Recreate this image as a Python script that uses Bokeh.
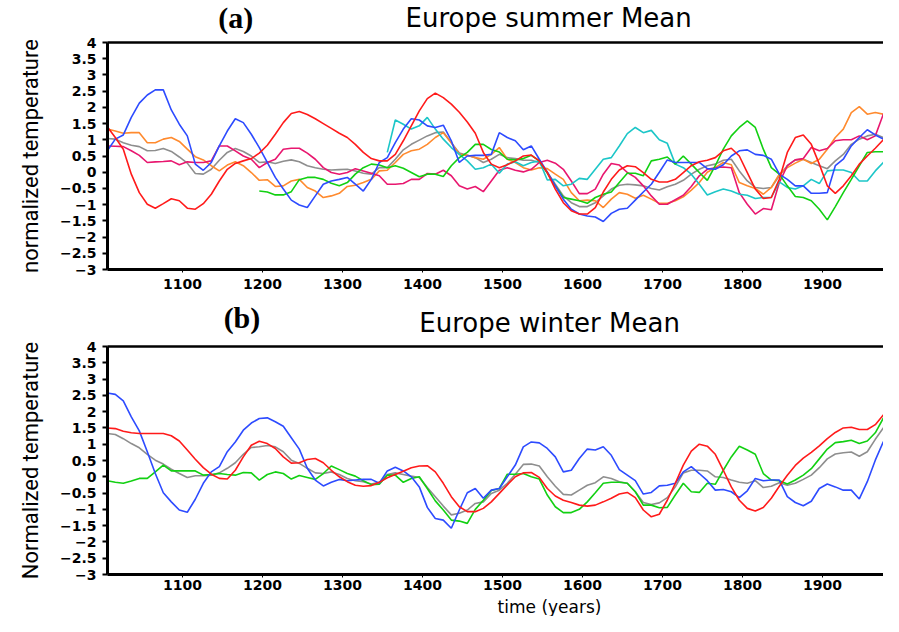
from bokeh.plotting import figure
from bokeh.models import Label, LinearAxis, FixedTicker, Range1d
from bokeh.layouts import column
from bokeh.embed import file_html
from bokeh.resources import INLINE

# ---------------- data ----------------
years = list(range(1006, 1987, 10))  # 99 samples, 10-year step

N = None
# Panel (a) Europe summer
sum_red = [1.40, 1.07, 0.71, -0.06, -0.63, -0.99, -1.11, -0.97, -0.82, -0.88,
           -1.11, -1.14, -0.97, -0.68, -0.27, 0.09, 0.27, 0.35, 0.42, 0.59,
           0.83, 1.17, 1.53, 1.81, 1.87, 1.78, 1.65, 1.50, 1.35, 1.20,
           1.07, 0.86, 0.61, 0.42, 0.35, 0.35, 0.55, 0.97, 1.43, 1.89,
           2.27, 2.44, 2.30, 2.10, 1.85, 1.55, 1.20, 0.61, 0.25, 0.14,
           0.23, 0.35, 0.50, 0.53, 0.35, -0.01, -0.52, -0.94, -1.19, -1.29,
           -1.29, -1.09, -0.61, -0.22, 0.07, 0.20, 0.17, -0.01, -0.22, -0.30,
           -0.30, -0.22, -0.01, 0.20, 0.32, 0.37, 0.45, 0.66, 0.74, 0.50,
           -0.01, -0.52, -0.81, -0.78, -0.22, 0.61, 1.07, 1.15, 0.86, 0.25,
           -0.42, -0.65, -0.42, -0.11, 0.25, 0.50, 0.74, 1.00, 0.91]
sum_blue = [0.66, 1.02, 1.15, 1.69, 2.13, 2.38, 2.54, 2.54, 1.92, 1.48,
            1.12, 0.25, 0.06, 0.30, 0.81, 1.27, 1.65, 1.53, 1.17, 0.76,
            0.30, -0.16, -0.52, -0.86, -1.01, -1.09, -0.73, -0.37, -0.27, -0.22,
            -0.16, -0.37, -0.58, -0.22, 0.30, 0.45, 0.91, 1.33, 1.65, 1.61,
            1.43, 1.38, 1.45, 0.97, 0.30, 0.50, 0.52, 0.52, 0.55, 1.22,
            1.07, 0.97, 0.69, 0.81, 0.40, 0.00, -0.42, -0.83, -1.14, -1.29,
            -1.35, -1.38, -1.52, -1.27, -1.14, -1.11, -0.86, -0.61, -0.37, 0.00,
            0.38, 0.30, 0.30, 0.30, 0.30, 0.11, 0.09, 0.23, 0.50, 0.66,
            0.69, 0.55, 0.52, 0.40, -0.06, -0.22, -0.42, -0.42, -0.65, -0.65,
            -0.63, 0.20, 0.40, 0.81, 1.07, 1.31, 1.15, 1.02, 0.94]
sum_orange = [1.33, 1.27, 1.20, 1.22, 1.22, 0.91, 0.91, 1.02, 1.07, 0.95,
              0.71, 0.48, 0.38, 0.20, 0.04, 0.22, 0.32, 0.20, -0.01, -0.25,
              -0.23, -0.44, -0.42, -0.27, -0.22, -0.47, -0.58, -0.78, -0.73, -0.65,
              -0.44, -0.40, -0.32, -0.22, 0.04, 0.06, 0.30, 0.55, 0.66, 0.71,
              0.86, 1.07, 1.22, 0.91, 0.55, 0.52, 0.45, 0.40, 0.55, 0.76,
              0.40, 0.30, 0.14, 0.07, 0.14, 0.11, -0.06, -0.22, -0.63, -0.88,
              -0.86, -0.88, -1.09, -0.83, -0.63, -0.68, -0.80, -0.71, -0.83, -0.96,
              -0.96, -0.88, -0.76, -0.55, -0.32, 0.00, 0.14, 0.30, 0.23, -0.32,
              -0.42, -0.50, -0.68, -0.47, -0.06, 0.14, 0.28, 0.40, 0.27, 0.40,
              0.71, 1.07, 1.33, 1.84, 2.02, 1.79, 1.84, 1.79, 1.58]
sum_gray = [1.04, 1.02, 0.91, 0.83, 0.79, 0.66, 0.67, 0.73, 0.64, 0.47,
            0.28, -0.04, -0.06, 0.09, 0.37, 0.61, 0.73, 0.64, 0.50, 0.30,
            0.32, 0.27, 0.34, 0.38, 0.32, 0.20, 0.14, 0.09, 0.07, 0.08,
            0.09, 0.04, -0.03, -0.06, 0.14, 0.14, 0.40, 0.69, 0.86, 0.99,
            1.12, 1.22, 1.24, 0.91, 0.59, 0.52, 0.45, 0.30, 0.40, 0.55,
            0.45, 0.42, 0.37, 0.37, 0.30, 0.00, -0.37, -0.73, -0.94, -1.06,
            -1.06, -0.94, -0.73, -0.52, -0.40, -0.37, -0.39, -0.42, -0.50, -0.55,
            -0.45, -0.37, -0.25, -0.06, 0.09, 0.20, 0.25, 0.37, 0.40, 0.04,
            -0.27, -0.47, -0.50, -0.47, -0.11, 0.20, 0.38, 0.40, 0.30, 0.20,
            0.11, 0.35, 0.55, 0.86, 1.02, 1.12, 1.17, 1.07, 0.97]
sum_magenta = [0.81, 0.80, 0.79, 0.66, 0.52, 0.30, 0.32, 0.33, 0.35, 0.23,
               0.32, 0.30, 0.30, 0.35, 0.81, 0.81, 0.66, 0.50, 0.40, 0.14,
               0.30, 0.40, 0.71, 0.74, 0.74, 0.59, 0.40, 0.14, -0.01, -0.06,
               -0.01, 0.11, 0.04, -0.03, -0.11, -0.37, -0.37, -0.35, -0.22, -0.22,
               -0.04, -0.06, 0.06, -0.11, -0.42, -0.52, -0.44, -0.60, -0.27, 0.06,
               0.14, 0.06, 0.01, 0.09, 0.30, 0.37, 0.28, 0.09, -0.27, -0.66,
               -0.66, -0.52, -0.06, 0.27, 0.22, -0.01, -0.16, -0.42, -0.73, -0.99,
               -0.99, -0.85, -0.71, -0.44, -0.11, 0.09, 0.14, 0.16, 0.14, -0.63,
               -0.99, -1.29, -1.12, -1.16, -0.32, 0.20, 0.38, 0.42, 0.76, 0.66,
               0.73, 0.97, 1.00, 1.00, 1.12, 1.00, 1.12, 1.79, 1.94]
sum_cyan = [N, N, N, N, N, N, N, N, N, N,
            N, N, N, N, N, N, N, N, N, N,
            N, N, N, N, N, N, N, N, N, N,
            N, N, N, N, N, 0.61, 1.61, 1.48, 1.33, 1.43,
            1.69, 1.33, 1.02, 0.76, 0.55, 0.35, 0.09, 0.14, 0.25, -0.03,
            0.25, 0.32, 0.20, 0.30, 0.35, -0.24, -0.22, -0.42, -0.37, -0.19,
            -0.22, 0.09, 0.40, 0.45, 0.81, 1.19, 1.38, 1.22, 1.29, 1.00,
            0.89, 0.25, 0.14, -0.06, -0.37, -0.70, -0.60, -0.52, -0.58, -0.68,
            -0.71, -0.81, -0.78, -0.78, -0.30, -0.47, -0.52, -0.42, -0.22, -0.35,
            0.04, 0.07, 0.07, -0.01, -0.27, -0.27, 0.04, 0.30, 0.50]
sum_green = [N, N, N, N, N, N, N, N, N, N,
             N, N, N, N, N, N, N, N, N, -0.58,
             -0.61, -0.70, -0.70, -0.60, -0.23, -0.16, -0.16, -0.22, -0.34, -0.42,
             -0.32, -0.06, 0.14, 0.25, 0.22, 0.14, 0.20, 0.12, -0.01, -0.14,
             -0.06, -0.06, -0.13, 0.20, 0.45, 0.61, 0.86, 0.86, 0.70, 0.62,
             0.40, 0.38, 0.42, 0.52, 0.35, -0.03, -0.42, -0.78, -0.83, -0.88,
             -0.96, -0.78, -0.68, -0.61, -0.32, -0.03, -0.03, -0.11, 0.35, 0.40,
             0.47, 0.25, 0.50, 0.25, -0.01, -0.25, 0.20, 0.71, 1.12, 1.38,
             1.58, 1.38, 0.71, 0.14, -0.06, -0.42, -0.75, -0.78, -0.88, -1.14,
             -1.47, -1.06, -0.63, -0.22, 0.20, 0.61, 0.63, 0.63, 0.55]

# Panel (b) Europe winter
win_blue = [2.57, 2.53, 2.33, 1.84, 1.41, 0.77, 0.10, -0.49, -0.77, -1.02,
            -1.09, -0.69, -0.20, 0.15, 0.31, 0.77, 1.07, 1.43, 1.65, 1.79,
            1.81, 1.69, 1.55, 1.20, 0.85, 0.26, -0.10, -0.28, -0.17, -0.08,
            -0.12, -0.10, -0.08, -0.08, -0.20, 0.18, 0.29, 0.18, 0.00, -0.31,
            -0.94, -1.28, -1.33, -1.58, -1.02, -0.49, -0.36, -0.66, -0.41, -0.36,
            0.00, 0.36, 0.92, 1.07, 1.04, 0.87, 0.61, 0.15, 0.20, 0.56,
            0.85, 0.82, 0.92, 0.66, 0.22, 0.05, -0.12, -0.53, -0.48, -0.28,
            -0.26, -0.20, 0.15, 0.31, 0.10, -0.12, -0.41, -0.39, -0.46, -0.64,
            -0.43, -0.05, -0.12, -0.10, -0.10, -0.61, -0.79, -0.89, -0.75, -0.36,
            -0.22, -0.31, -0.41, -0.41, -0.68, -0.15, 0.51, 1.07, 1.35]
win_red = [1.50, 1.48, 1.40, 1.35, 1.33, 1.33, 1.33, 1.33, 1.26, 1.10,
           0.82, 0.54, 0.28, 0.08, -0.05, -0.07, 0.20, 0.61, 0.97, 1.09,
           1.02, 0.87, 0.61, 0.42, 0.43, 0.53, 0.56, 0.43, 0.20, 0.00,
           -0.15, -0.26, -0.29, -0.27, -0.17, -0.03, 0.07, 0.17, 0.28, 0.33,
           0.34, 0.15, -0.20, -0.61, -0.92, -1.07, -1.07, -0.97, -0.77, -0.51,
           -0.25, 0.00, 0.12, 0.13, -0.02, -0.36, -0.59, -0.72, -0.79, -0.87,
           -0.90, -0.87, -0.77, -0.66, -0.53, -0.48, -0.64, -1.02, -1.23, -1.15,
           -0.72, -0.20, 0.36, 0.79, 1.00, 0.94, 0.69, 0.20, -0.31, -0.72,
           -0.97, -1.05, -0.94, -0.66, -0.29, 0.05, 0.35, 0.57, 0.75, 0.95,
           1.17, 1.36, 1.50, 1.52, 1.45, 1.45, 1.60, 1.90, 2.04]
win_green = [-0.12, -0.17, -0.20, -0.13, -0.05, -0.05, 0.15, 0.36, 0.18, 0.18,
             0.18, 0.18, 0.05, 0.07, 0.10, 0.07, 0.05, 0.13, 0.12, -0.10,
             0.07, 0.15, 0.10, -0.07, 0.04, -0.02, -0.08, 0.10, 0.33, 0.22,
             0.10, 0.02, -0.12, -0.24, -0.23, 0.05, 0.05, -0.17, -0.05, 0.00,
             -0.36, -0.74, -1.02, -1.33, -1.36, -1.43, -1.00, -0.72, -0.42, -0.36,
             0.08, 0.08, 0.10, 0.00, -0.07, -0.56, -0.92, -1.10, -1.10, -1.00,
             -0.77, -0.49, -0.20, -0.17, -0.17, -0.20, -0.46, -0.87, -0.87, -0.95,
             -0.94, -0.56, -0.20, -0.46, -0.48, -0.20, -0.23, 0.20, 0.61, 0.94,
             0.82, 0.69, 0.10, -0.10, -0.12, -0.22, -0.10, 0.05, 0.25, 0.55,
             0.85, 1.05, 1.08, 1.12, 1.02, 1.10, 1.35, 1.80, 1.99]
win_gray = [1.33, 1.30, 1.17, 1.02, 0.89, 0.69, 0.51, 0.39, 0.23, 0.10,
            -0.02, 0.03, 0.03, 0.05, 0.12, 0.26, 0.43, 0.69, 0.90, 0.92,
            0.96, 0.92, 0.77, 0.51, 0.41, 0.26, 0.12, 0.10, 0.15, 0.07,
            -0.05, -0.12, -0.15, -0.22, -0.17, 0.07, 0.12, 0.07, 0.02, -0.02,
            -0.33, -0.61, -0.90, -1.17, -1.12, -1.02, -0.82, -0.77, -0.51, -0.41,
            -0.20, 0.08, 0.38, 0.39, 0.33, 0.00, -0.29, -0.54, -0.56, -0.41,
            -0.26, -0.18, 0.00, -0.05, -0.15, -0.20, -0.46, -0.79, -0.85, -0.80,
            -0.64, -0.31, 0.12, 0.20, 0.20, 0.18, 0.00, -0.02, -0.10, -0.17,
            -0.20, -0.12, -0.33, -0.29, -0.18, -0.26, -0.20, -0.08, 0.05, 0.28,
            0.55, 0.70, 0.74, 0.76, 0.63, 0.77, 1.15, 1.50, 1.69]

x_ticks = [1100, 1200, 1300, 1400, 1500, 1600, 1700, 1800, 1900]
y_ticks = [-3, -2.5, -2, -1.5, -1, -0.5, 0, 0.5, 1, 1.5, 2, 2.5, 3, 3.5, 4]

COL = {"red": "#ff1a1a", "blue": "#2d4bff", "orange": "#ff8a2e", "gray": "#8e8e8e",
       "magenta": "#e8176f", "cyan": "#1cc6c8", "green": "#12d012"}

W = 883


def clean(vals):
    return [float("nan") if v is None else v for v in vals]


def fmt(t):
    return ("%g" % t).replace("-", "\u2212")


def strip_fig(height):
    """A blank strip used for the panel captions (no axes, frame = whole strip)."""
    h = figure(width=W, height=height, output_backend="svg", toolbar_location=None,
               x_range=Range1d(0, W), y_range=Range1d(0, height),
               x_axis_type=None, y_axis_type=None, min_border=0,
               outline_line_color=None, background_fill_color="white",
               border_fill_color="white")
    h.grid.visible = False
    return h


def header(height, tag, tag_x, tag_y, title, title_x, title_y):
    h = strip_fig(height)
    h.add_layout(Label(x=tag_x, y=tag_y, text=tag, text_align="center",
                       text_baseline="middle", text_font="Liberation Serif",
                       text_font_style="bold", text_font_size="30px",
                       text_color="black"))
    h.add_layout(Label(x=title_x, y=title_y, text=title, text_align="center",
                       text_baseline="middle", text_font="DejaVu Sans",
                       text_font_size="26px", text_color="black"))
    return h


def panel(height, top, bottom, ylabel, series, x_standoff):
    p = figure(width=W, height=height, output_backend="svg", toolbar_location=None,
               x_range=Range1d(1006.25, 1976.25), y_range=Range1d(-3, 4),
               min_border_left=107, min_border_right=0, min_border_top=top,
               min_border_bottom=bottom, background_fill_color="white",
               border_fill_color="white", outline_line_color=None)
    p.xgrid.visible = False
    p.ygrid.visible = False
    for vals, c in series:
        p.line(years, clean(vals), line_color=COL[c], line_width=1.6)

    xa = p.xaxis[0]
    xa.ticker = FixedTicker(ticks=x_ticks)
    xa.major_label_overrides = {t: str(t) for t in x_ticks}
    xa.axis_line_width = 3
    xa.major_tick_in = 0
    xa.major_tick_out = 3
    xa.minor_tick_out = 0
    xa.minor_tick_in = 0
    xa.major_label_standoff = x_standoff
    xa.major_label_text_font = "DejaVu Sans"
    xa.major_label_text_font_style = "bold"
    xa.major_label_text_font_size = "14px"
    xa.major_label_text_color = "black"

    ya = p.yaxis[0]
    ya.ticker = FixedTicker(ticks=y_ticks)
    ya.major_label_overrides = {t: fmt(t) for t in y_ticks}
    ya.axis_line_width = 3
    ya.major_tick_in = 0
    ya.major_tick_out = 5
    ya.major_tick_line_width = 2
    ya.minor_tick_out = 0
    ya.minor_tick_in = 0
    ya.major_label_standoff = 6
    ya.major_label_text_font = "DejaVu Sans"
    ya.major_label_text_font_style = "bold"
    ya.major_label_text_font_size = "14px"
    ya.major_label_text_color = "black"
    ya.axis_label = ylabel
    ya.axis_label_text_font = "Roboto"
    ya.axis_label_text_font_style = "normal"
    ya.axis_label_text_font_size = "22px"
    ya.axis_label_text_color = "black"
    ya.axis_label_standoff = 14

    top_axis = LinearAxis(ticker=FixedTicker(ticks=[]), major_tick_in=0,
                          major_tick_out=0, minor_tick_in=0, minor_tick_out=0,
                          axis_line_width=2.5, major_label_standoff=0)
    p.add_layout(top_axis, "above")
    return p


# layout (screen y): h1 8-42, p1 42-308 (frame 50-277), h2 308-346,
# p2 346-604 (frame 354-582), f2 604-624
h1 = header(34, "(a)", 146, 17, "Europe summer Mean", 502, 17)
p1 = panel(266, 8, 31, "normalized temperature",
           [(sum_gray, "gray"), (sum_orange, "orange"), (sum_magenta, "magenta"),
            (sum_cyan, "cyan"), (sum_green, "green"), (sum_blue, "blue"),
            (sum_red, "red")], 6)
h2 = header(38, "(b)", 153, 21, "Europe winter Mean", 503, 16)
p2 = panel(258, 8, 22, "Normalized temperature",
           [(win_gray, "gray"), (win_green, "green"), (win_blue, "blue"),
            (win_red, "red")], 2)
f2 = strip_fig(20)
f2.add_layout(Label(x=503, y=10, text="time (years)", text_align="center",
                    text_baseline="middle", text_font="DejaVu Sans",
                    text_font_size="17px", text_color="black"))

layout = column(h1, p1, h2, p2, f2, spacing=0)
open("out.html", "w").write(file_html(layout, INLINE))
